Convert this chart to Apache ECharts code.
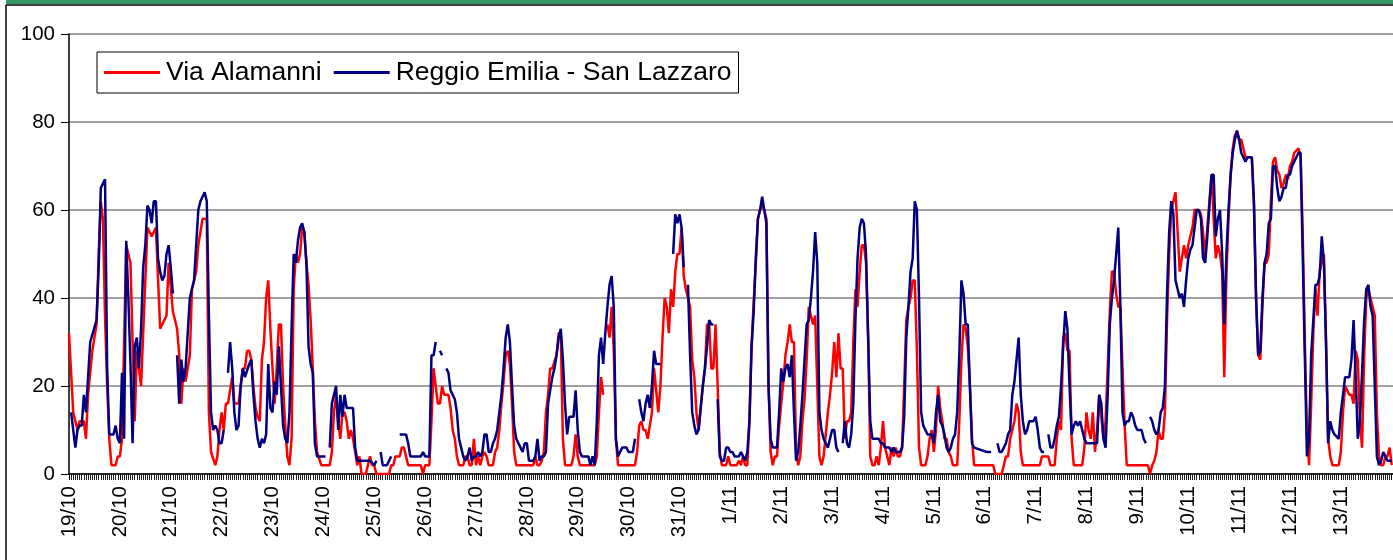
<!DOCTYPE html>
<html>
<head>
<meta charset="utf-8">
<script src="https://cdn.jsdelivr.net/npm/echarts@6/dist/echarts.min.js"></script>
<style>
html,body{margin:0;padding:0;background:#fff;}
#chart{width:1393px;height:560px;}
</style>
</head>
<body>
<div id="chart"></div>
<script>
// Day labels (one every 24 hourly points, starting 19/10 00:00)
const dayLabels = ['19/10','20/10','21/10','22/10','23/10','24/10','25/10','26/10','27/10','28/10','29/10','30/10','31/10',
  '1/11','2/11','3/11','4/11','5/11','6/11','7/11','8/11','9/11','10/11','11/11','12/11','13/11'];
const seriesNames = ['Via Alamanni', 'Reggio Emilia - San Lazzaro'];
const yTicks = [0, 20, 40, 60, 80, 100];

// [hour since 19/10 00:00, value]
const viaAlamanni = [
[0,32],[2,14],[4,10],[5,12],[7,12],[8,8],[9,18],[11,28],[13,34],[14,50],[15,62],[16,58],[17,36],[18,20],[19,8],[20,2],[22,2],[23,4],
[24,4],[25,8],[27,52],[29,48],[31,12],[32,28],[33,24],[34,20],[36,44],[37,56],[39,54],[41,56],[43,33],[45,35],[46,36],[47,48],[49,37],[51,33],[52,27],[53,16],[54,24],[55,21],[57,27],[58,42],[60,46],[61,52],[63,58],[65,58],[66,14],[67,5],[69,2],[70,4],[71,10],[72,14],[73,10],[74,16],[75,16],[77,22],[78,16],
[80,16],[82,24],[83,24],[84,28],[85,28],[86,26],[87,20],[88,15],[89,13],[90,12],[91,26],[92,30],[93,40],[94,44],[95,33],[96,24],[97,16],[98,24],[99,34],[100,34],[101,20],[102,11],[103,4],[104,2],[105,8],[106,42],[107,50],[108,48],[109,50],[110,56],[111,55],[112,48],[113,43],[114,35],[115,24],[116,12],[117,5],[119,2],[123,2],[124,5],[125,14],[126,18],[127,12],[128,8],[129,14],[130,14],[131,12],[132,8],
[133,10],[134,8],[135,5],[136,2],[137,4],[138,0],[140,0],[141,2],[142,4],[143,2],[144,2],[145,0],[151,0],[152,2],[153,2],[154,4],[156,4],[157,6],[158,6],[159,4],[160,2],[166,2],[167,0],[168,2],[170,2],[171,12],[172,24],[173,20],[174,16],[175,16],[176,20],[177,18],[179,18],[180,15],[181,10],[182,8],[183,4],[184,2],[186,2],[187,4],
[188,4],[189,2],[190,2],[191,8],[192,2],[193,4],[194,2],[195,4],[196,5],[197,4],[198,2],[200,2],[201,5],[202,6],[203,10],[204,16],[205,21],[206,27],[207,28],[208,25],[209,16],[210,5],[211,2],[219,2],[220,4],[221,2],[222,2],[223,3],[224,5],[225,14],[226,18],[227,24],[228,24],[230,27],[231,32],[232,32],[233,8],[234,2],[237,2],[238,4],[239,9],[240,4],[241,2],
[248,2],[249,4],[250,14],[251,22],[252,18],[253,null],[254,34],[255,31],[256,38],[257,28],[258,8],[259,2],[267,2],[268,5],[269,11],[270,12],[271,10],[272,10],[273,8],[274,11],[275,14],[276,24],[277,19],[278,14],[279,20],[280,31],[281,40],[282,38],[283,32],[284,42],[285,38],[286,46],[287,50],[288,50],[289,56],[290,45],[291,42],[292,40],[293,38],[294,26],[295,22],[296,14],[297,10],
[298,15],[299,20],[300,24],[301,34],[302,34],[303,24],[304,24],[305,34],[306,20],[307,5],[308,2],[310,2],[311,4],[312,2],[315,2],[316,3],[317,2],[318,4],[319,2],[320,2],[321,12],[322,29],[323,39],[324,48],[325,58],[326,60],[327,61],[328,60],[329,58],[330,20],[331,5],[332,2],[333,4],[334,4],[335,11],[336,16],[337,21],[338,27],[339,30],[340,34],[341,30],[342,30],[343,5],[344,2],[345,4],[346,12],[347,17],[348,26],[349,38],[350,36],[351,34],[352,36],
[353,20],[354,4],[355,2],[356,4],[357,9],[358,14],[359,18],[360,23],[361,30],[362,22],[363,32],[364,24],[365,24],[366,8],[367,12],[368,12],[369,14],[370,30],[371,42],[372,38],[373,46],[374,52],[375,52],[376,48],[377,31],[378,4],[379,2],[380,2],[381,4],[382,2],[383,6],[384,12],[385,6],[386,4],[387,2],[388,6],[389,4],[390,6],[391,4],[392,4],[393,6],[394,20],[395,35],[396,38],[397,40],[398,44],[399,44],[400,28],[401,6],[402,2],[404,2],[405,4],[406,8],
[407,10],[408,5],[409,10],[410,20],[411,15],[412,12],[413,8],[414,8],[415,5],[416,4],[417,2],[419,2],[420,12],[421,26],[422,34],[423,33],[424,29],[425,20],[426,8],[427,2],[436,2],[437,0],[440,0],[441,2],[442,4],[443,4],[444,8],[445,10],[446,12],[447,16],[448,14],[449,5],[450,2],[458,2],[459,4],[461,4],
[462,4],[463,2],[465,2],[466,8],[467,12],[468,10],[469,31],[470,32],[471,28],[472,28],[473,8],[474,2],[478,2],[479,6],[480,14],[481,10],[482,8],[483,14],[484,5],[485,10],[486,18],[487,13],[488,8],[489,12],[490,24],[491,37],[492,46],[493,46],[494,41],[495,38],[496,38],[497,24],[498,11],[499,2],[509,2],[510,0],[511,2],[512,3],[513,5],[514,10],[515,8],[516,8],
[517,14],[518,35],[519,50],[520,60],[521,62],[522,64],[523,55],[524,46],[525,49],[526,52],[527,49],[528,52],[529,54],[530,56],[531,60],[532,60],[533,60],[534,59],[535,55],[536,49],[537,56],[538,62],[539,68],[540,58],[541,49],[542,52],[543,50],[544,46],[545,22],[546,45],[547,58],[548,68],[549,74],[550,77],[551,78],[552,76],[553,76],[554,74],[555,72],[558,72],[559,61],[560,40],[561,27],[562,26],[563,38],[564,48],[565,48],[566,50],[567,62],[568,71],[569,72],[570,69],
[571,68],[572,65],[573,66],[574,68],[575,67],[576,70],[577,71],[578,73],[580,74],[581,72],[582,55],[583,30],[584,10],[585,2],[586,16],[587,32],[588,42],[589,36],[590,46],[591,48],[592,50],[593,30],[594,8],[595,4],[596,2],[599,2],[600,5],[601,14],[602,20],[603,19],[604,18],[605,18],[606,16],[607,28],[608,26],[609,12],[610,6],[611,27],[612,40],[613,42],[614,40],[615,38],[616,36],[617,14],[618,4],[619,2],[620,2],[621,4],[622,4],[623,6],[624,2]
];

const sanLazzaro = [
[1,14],[3,6],[4,10],[5,11],[6,11],[7,18],[8,14],[10,30],[13,35],[14,47],[15,65],[16,66],[17,67],[18,24],[19,9],[21,9],[22,11],[23,8],
[24,7],[25,23],[26,8],[27,53],[28,40],[29,25],[30,7],[31,29],[32,31],[33,24],[34,33],[35,47],[36,52],[37,61],[38,60],[39,57],[40,62],[41,62],[42,49],[43,46],[44,44],[45,45],[46,50],[47,52],[48,47],[49,41],[50,null],[51,27],[52,16],[53,26],[54,21],[55,24],[57,40],[58,42],[59,44],[61,60],[62,62],[64,64],[65,62],[66,36],[67,14],[68,10],[69,11],[70,10],[71,7],[72,7],[73,10],[74,null],[75,23],[76,30],[77,24],[78,14],
[79,10],[80,11],[81,20],[82,24],[83,22],[85,25],[86,26],[87,18],[88,12],[89,8],[90,6],[91,8],[92,7],[93,9],[94,25],[95,15],[96,14],[97,21],[98,18],[99,29],[100,20],[101,11],[102,8],[103,7],[104,14],[105,33],[106,50],[107,48],[108,53],[109,56],[110,57],[111,55],[112,48],[113,29],[114,25],[115,23],[116,7],[117,4],[121,4],[122,null],[123,6],[124,16],[125,18],[126,20],[127,10],[128,18],[129,13],[130,18],[131,15],[132,15],[133,15],
[134,15],[135,6],[136,3],[142,3],[144,2],[145,3],[146,null],[147,5],[148,2],[150,2],[151,3],[152,4],[153,null],[156,9],[159,9],[160,7],[161,4],[166,4],[167,5],[168,4],[170,4],[171,27],[172,27],[173,30],[174,null],[175,28],[176,27],[177,null],[178,24],[179,23],[180,19],[181,18],[182,17],[183,14],[184,8],[185,6],[186,4],[187,3],
[188,4],[189,6],[190,3],[191,4],[192,4],[193,5],[194,4],[195,5],[196,9],[197,9],[198,5],[199,5],[200,7],[201,8],[202,10],[203,14],[204,18],[205,24],[206,31],[207,34],[208,30],[209,20],[210,11],[211,8],[212,7],[213,6],[214,5],[215,7],[216,7],[217,3],[219,3],[220,4],[221,8],[222,3],[223,4],[224,4],[225,5],[226,16],[227,19],[228,22],[229,24],[230,27],[231,31],[232,33],[233,26],[234,16],[235,9],[236,13],[238,13],[239,19],[240,10],[241,5],[242,4],
[244,4],[245,4],[246,2],[247,4],[248,2],[249,12],[250,27],[251,31],[252,25],[253,32],[254,38],[255,43],[256,45],[257,38],[258,8],[259,4],[260,5],[261,6],[263,6],[264,5],[266,5],[267,8],[268,null],[269,17],[270,14],[271,12],[272,16],[273,18],[274,15],[275,20],[276,28],[277,25],[279,25],[280,null],[285,50],[286,59],[287,57],[288,59],[289,56],[290,47],[291,null],[292,43],[293,27],[294,14],[295,11],[296,9],
[297,10],[298,15],[299,20],[300,24],[301,29],[302,35],[303,34],[304,34],[305,null],[306,17],[307,4],[308,3],[309,3],[310,6],[311,6],[312,5],[313,5],[314,4],[316,4],[317,5],[318,4],[319,3],[320,5],[321,12],[322,29],[323,37],[324,49],[325,58],[326,60],[327,63],[328,60],[329,57],[330,20],[331,8],[332,6],[333,6],[334,6],[335,14],[336,24],[337,21],[338,24],[339,25],[340,22],[341,27],[342,14],[343,3],[344,5],[345,11],[346,18],[347,26],[348,34],[349,35],[350,40],[351,46],[352,55],
[353,48],[354,14],[355,10],[356,8],[357,7],[358,6],[359,8],[360,10],[361,10],[362,6],[363,5],[364,null],[365,7],[366,12],[367,7],[368,6],[369,9],[370,16],[371,35],[372,49],[373,56],[374,58],[375,57],[376,50],[377,31],[378,12],[379,8],[382,8],[383,7],[384,7],[385,6],[387,6],[388,5],[389,6],[390,5],[392,5],[393,6],[394,13],[395,31],[396,38],[397,46],[398,49],[399,62],[400,60],[401,40],[402,14],[403,11],[404,10],[405,9],[407,9],
[408,7],[409,14],[410,18],[411,12],[412,11],[413,9],[414,6],[415,5],[416,6],[417,8],[418,9],[419,14],[420,27],[421,44],[422,41],[423,34],[424,34],[425,20],[426,7],[427,6],[433,5],[435,5],[436,null],[438,7],[439,5],[440,5],[441,6],[442,7],[443,9],[444,10],[445,18],[446,21],[447,26],[448,31],[449,18],[450,12],[451,9],[452,10],[453,12],[455,12],[456,13],[457,10],[458,6],[459,5],[460,5],[461,null],
[462,9],[463,6],[464,6],[465,8],[466,11],[467,13],[468,20],[469,29],[470,37],[471,33],[472,20],[473,9],[474,11],[475,12],[476,11],[477,12],[478,10],[479,8],[480,7],[485,7],[486,18],[487,16],[488,8],[489,6],[490,18],[491,34],[492,40],[493,44],[494,50],[495,56],[496,38],[497,14],[498,11],[499,12],[500,12],[501,14],[502,13],[503,11],[504,10],[506,10],[507,8],[508,7],[509,null],[510,13],[511,12],[512,10],[513,9],[514,10],[515,14],[516,15],
[517,20],[518,41],[519,55],[520,62],[521,59],[522,44],[523,42],[524,40],[525,41],[526,38],[527,44],[528,49],[529,51],[530,52],[531,56],[532,60],[533,60],[534,58],[535,49],[536,48],[537,54],[538,61],[539,68],[540,68],[541,54],[542,58],[543,60],[544,50],[545,34],[546,50],[547,60],[548,68],[549,73],[550,76],[551,78],[552,76],[553,73],[554,72],[555,71],[556,72],[558,72],[559,62],[560,40],[561,27],[562,28],[563,40],[564,48],[565,50],[566,57],[567,58],[568,70],[569,70],[570,65],
[571,62],[572,63],[573,65],[574,65],[575,68],[576,68],[577,70],[578,71],[579,72],[580,73],[581,73],[582,50],[583,27],[584,4],[585,8],[586,27],[587,35],[588,43],[589,43],[590,45],[591,54],[592,48],[593,30],[594,7],[595,12],[596,10],[597,9],[599,8],[600,14],[601,18],[602,22],[604,22],[605,26],[606,35],[607,22],[608,8],[609,12],[610,23],[611,35],[612,42],[613,43],[614,38],[615,36],[616,20],[617,4],[618,2],[619,3],[620,5],[621,4],[622,3],[623,3],[624,3]
];

const FONT = '"Liberation Sans", Arial, sans-serif';
const chart = echarts.init(document.getElementById('chart'), null, {renderer: 'canvas'});
chart.setOption({
  animation: false,
  backgroundColor: '#ffffff',
  textStyle: {fontFamily: FONT},
  graphic: [
    {type: 'rect', shape: {x: 6, y: 0, width: 1400, height: 4}, style: {fill: '#339966'}, silent: true},
    {type: 'line', shape: {x1: 6, y1: 5, x2: 1400, y2: 5}, style: {stroke: '#000', lineWidth: 1.5}, silent: true},
    {type: 'line', shape: {x1: 6, y1: 5, x2: 6, y2: 560}, style: {stroke: '#000', lineWidth: 1.5}, silent: true}
  ],
  legend: {
    data: seriesNames,
    left: 97, top: 52,
    orient: 'horizontal',
    padding: [5, 7, 5, 7],
    itemGap: 12,
    itemWidth: 56,
    itemHeight: 3,
    icon: 'rect',
    borderColor: '#000',
    borderWidth: 1,
    backgroundColor: '#fff',
    textStyle: {fontSize: 26.5, color: '#000', fontFamily: FONT, lineHeight: 31, padding: [0, 0, 0, 1]}
  },
  grid: {left: 69, right: 0, top: 34, bottom: 86, containLabel: false},
  xAxis: {
    type: 'value',
    min: 0,
    max: 624.6,
    interval: 24,
    axisLine: {show: true, onZero: false, lineStyle: {color: '#000', width: 1.5}},
    axisTick: {show: true, length: 6, inside: false, lineStyle: {color: '#000', width: 1}},
    minorTick: {show: true, splitNumber: 24, length: 6, lineStyle: {color: '#222', width: 1}},
    splitLine: {show: false},
    minorSplitLine: {show: false},
    axisLabel: {
      show: true, rotate: 90, margin: 12, fontSize: 20.5, color: '#000', fontFamily: FONT,
      showMaxLabel: false,
      formatter: function (v) {
        const i = v / 24;
        if (Math.abs(i - Math.round(i)) > 1e-6) return '';
        const k = Math.round(i);
        return k < dayLabels.length ? dayLabels[k] : '';
      }
    }
  },
  yAxis: {
    type: 'value',
    min: yTicks[0],
    max: yTicks[yTicks.length - 1],
    interval: 20,
    axisLine: {show: true, lineStyle: {color: '#000', width: 1.5}},
    axisTick: {show: true, length: 8, inside: false, lineStyle: {color: '#000', width: 1}},
    axisLabel: {fontSize: 20.5, color: '#000', margin: 14, fontFamily: FONT},
    splitLine: {show: true, lineStyle: {color: '#808080', width: 1.5}}
  },
  series: [
    {
      name: seriesNames[0], type: 'line', data: viaAlamanni,
      showSymbol: false, symbol: 'none', connectNulls: false,
      lineStyle: {color: '#ff0000', width: 2.5}, itemStyle: {color: '#ff0000'},
      z: 2
    },
    {
      name: seriesNames[1], type: 'line', data: sanLazzaro,
      showSymbol: false, symbol: 'none', connectNulls: false,
      lineStyle: {color: '#000080', width: 2.5}, itemStyle: {color: '#000080'},
      z: 3
    }
  ]
});
</script>
</body>
</html>
